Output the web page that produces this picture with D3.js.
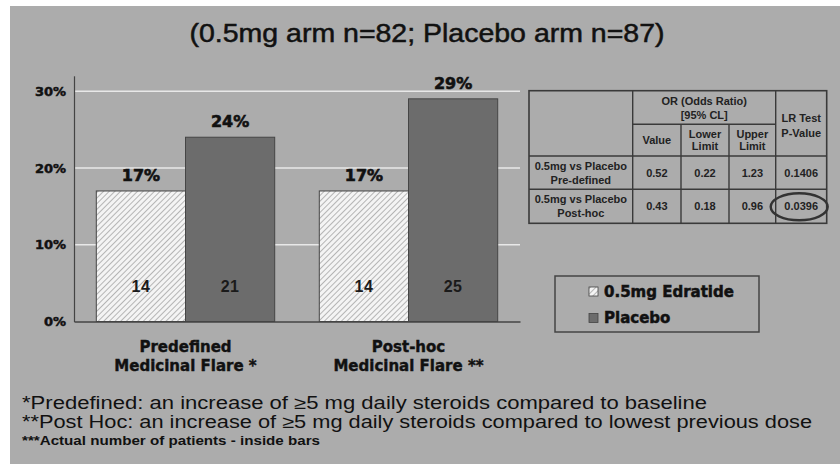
<!DOCTYPE html>
<html lang="en">
  <head>
    <meta charset="UTF-8">
    <title>Medicinal Flare</title>
    <style>
      body { margin: 0; background: #fff; }
      svg { display: block; }
    </style>
  </head>
  <body>
    <div id="chart"></div>
    <script src="https://d3js.org/d3.v7.min.js"></script>
    <script>
      // data
      const groups = [["Predefined", "Medicinal Flare *"], ["Post-hoc", "Medicinal Flare **"]];
      const arms = ["0.5mg Edratide", "Placebo"];
      const edratidePct = [0.17, 0.17];
      const placeboPct = [0.24, 0.29];
      const edratideN = [14, 14];
      const placeboN = [21, 25];
      const yTicks = [0, 0.1, 0.2, 0.3];

      const tableHead = ["OR (Odds Ratio)", "[95% CL]"];
      const tableSubHead = [["Value"], ["Lower", "Limit"], ["Upper", "Limit"]];
      const tablePHead = ["LR Test", "P-Value"];
      const tableRowNames = [["0.5mg vs Placebo", "Pre-defined"], ["0.5mg vs Placebo", "Post-hoc"]];
      const tableValues = [["0.52", "0.22", "1.23", "0.1406"], ["0.43", "0.18", "0.96", "0.0396"]];

      const title = "(0.5mg arm n=82; Placebo arm n=87)";
      const footnotes = [
        "*Predefined: an increase of \u22655 mg daily steroids compared to baseline",
        "**Post Hoc: an increase of \u22655 mg daily steroids compared to lowest previous dose",
        "***Actual number of patients - inside bars"
      ];

      const W = 840, H = 464;
      const bg = "#acacac";
      const bold = "'DejaVu Sans', sans-serif";
      const arial = "'Liberation Sans', Arial, sans-serif";

      const svg = d3.select("#chart").append("svg")
        .attr("width", W).attr("height", H);

      // hatch for the edratide bars
      const defs = svg.append("defs");
      defs.append("pattern")
        .attr("id", "hatch")
        .attr("patternUnits", "userSpaceOnUse")
        .attr("width", 4).attr("height", 4)
        .attr("patternTransform", "rotate(45)")
        .call(p => {
          p.append("rect").attr("width", 4).attr("height", 4).attr("fill", "#f4f4f4");
          p.append("line").attr("x1", 0).attr("y1", 0).attr("x2", 0).attr("y2", 4)
            .attr("stroke", "#9a9a9a").attr("stroke-width", 1.4);
        });

      // slide background with white top/left margin
      svg.append("rect").attr("x", 10).attr("y", 6).attr("width", W - 10).attr("height", H - 6)
        .attr("fill", bg);

      svg.append("text")
        .attr("x", 427).attr("y", 42)
        .attr("text-anchor", "middle")
        .attr("textLength", 475).attr("lengthAdjust", "spacingAndGlyphs")
        .style("font-family", arial).style("font-size", "25px").style("fill", "#111")
        .style("stroke", "#111").style("stroke-width", "0.5px")
        .text(title);

      // scales
      const x0 = d3.scaleBand().domain(d3.range(groups.length)).range([74, 520]).paddingInner(0).paddingOuter(0);
      const x1 = d3.scaleBand().domain(d3.range(arms.length)).range([0, x0.bandwidth()]).paddingOuter(0.25);
      const y = d3.scaleLinear().domain([0, 0.32]).range([321.5, 75.8]);

      // gridlines
      svg.append("g").selectAll("line")
        .data(yTicks.filter(d => d > 0))
        .join("line")
        .attr("x1", 74).attr("x2", 520)
        .attr("y1", d => y(d)).attr("y2", d => y(d))
        .attr("stroke", "#e8e8e8").attr("stroke-width", 1.5);

      // y axis
      const yAxis = svg.append("g")
        .attr("transform", "translate(74,0)")
        .call(d3.axisLeft(y).tickValues(yTicks).tickSize(0).tickPadding(8).tickFormat(d3.format(".0%")));
      yAxis.select(".domain").attr("stroke", "#444").attr("stroke-width", 1.2);
      yAxis.selectAll("text")
        .style("font-family", bold).style("font-weight", "bold").style("font-size", "13px").style("fill", "#111")
        .style("stroke", "#111").style("stroke-width", "0.5px");

      // x axis
      const xAxis = svg.append("g")
        .attr("transform", "translate(0," + y(0) + ")")
        .call(d3.axisBottom(x0).tickSize(0).tickFormat(""));
      xAxis.select(".domain").attr("stroke", "#444").attr("stroke-width", 1.5);
      xAxis.selectAll(".tick text").remove();

      groups.forEach((g, i) => {
        svg.append("text")
          .attr("x", x0(i) + x0.bandwidth() / 2).attr("y", 352)
          .attr("text-anchor", "middle")
          .style("font-family", bold).style("font-weight", "bold").style("font-size", "15px").style("fill", "#111")
          .style("stroke", "#111").style("stroke-width", "0.4px")
          .selectAll("tspan").data(g).join("tspan")
          .attr("x", x0(i) + x0.bandwidth() / 2)
          .attr("dy", (d, k) => k === 0 ? 0 : 18.5)
          .text(d => d);
      });

      // bars
      const rows = groups.map((g, i) => [
        { group: i, arm: 0, pct: edratidePct[i], n: edratideN[i] },
        { group: i, arm: 1, pct: placeboPct[i], n: placeboN[i] }
      ]).flat();

      const bars = svg.append("g");
      bars.selectAll("rect")
        .data(rows)
        .join("rect")
        .attr("x", d => x0(d.group) + x1(d.arm))
        .attr("width", x1.bandwidth())
        .attr("y", d => y(d.pct))
        .attr("height", d => y(0) - y(d.pct))
        .attr("fill", d => d.arm === 0 ? "url(#hatch)" : "#6c6c6c")
        .attr("stroke", "#454545").attr("stroke-width", 1);

      bars.selectAll("text.pct")
        .data(rows)
        .join("text")
        .attr("class", "pct")
        .attr("x", d => x0(d.group) + x1(d.arm) + x1.bandwidth() / 2)
        .attr("y", d => y(d.pct) - 10)
        .attr("text-anchor", "middle")
        .style("font-family", bold).style("font-weight", "bold").style("font-size", "16px").style("fill", "#111")
        .style("stroke", "#111").style("stroke-width", "0.6px")
        .text(d => d3.format(".0%")(d.pct));

      bars.selectAll("text.n")
        .data(rows)
        .join("text")
        .attr("class", "n")
        .attr("x", d => x0(d.group) + x1(d.arm) + x1.bandwidth() / 2)
        .attr("y", y(0) - 30)
        .attr("text-anchor", "middle")
        .style("font-family", arial).style("font-weight", "bold").style("font-size", "16px").style("fill", "#1a1a1a")
        .style("letter-spacing", "0.5px")
        .text(d => d.n);

      // statistics table
      const colX = [529, 632.7, 681, 729, 775.7, 826.7];
      const rowY = [90.7, 124.3, 156, 189.3, 223.3];
      const tbl = svg.append("g");
      const line = (x1_, y1_, x2_, y2_) => tbl.append("line")
        .attr("x1", x1_).attr("y1", y1_).attr("x2", x2_).attr("y2", y2_)
        .attr("stroke", "#3a3a3a").attr("stroke-width", 1.4);

      tbl.append("rect")
        .attr("x", colX[0]).attr("y", rowY[0])
        .attr("width", colX[5] - colX[0]).attr("height", rowY[4] - rowY[0])
        .attr("fill", "none").attr("stroke", "#3a3a3a").attr("stroke-width", 1.6);
      line(colX[1], rowY[0], colX[1], rowY[4]);
      line(colX[4], rowY[0], colX[4], rowY[4]);
      line(colX[2], rowY[1], colX[2], rowY[4]);
      line(colX[3], rowY[1], colX[3], rowY[4]);
      line(colX[1], rowY[1], colX[4], rowY[1]);
      line(colX[0], rowY[2], colX[5], rowY[2]);
      line(colX[0], rowY[3], colX[5], rowY[3]);

      const cellText = (cx, cy, lines, gap) => {
        const t = tbl.append("text")
          .attr("text-anchor", "middle")
          .style("font-family", arial).style("font-weight", "bold").style("font-size", "11px").style("fill", "#222");
        const top = cy - (lines.length - 1) * gap / 2 + 4;
        lines.forEach((s, k) => t.append("tspan").attr("x", cx).attr("y", top + k * gap).text(s));
      };

      cellText((colX[1] + colX[4]) / 2, (rowY[0] + rowY[1]) / 2, tableHead, 14);
      cellText((colX[4] + colX[5]) / 2, (rowY[0] + rowY[2]) / 2 + 2, tablePHead, 14.5);
      tableSubHead.forEach((s, k) => cellText((colX[k + 1] + colX[k + 2]) / 2, (rowY[1] + rowY[2]) / 2, s, 12.5));
      tableRowNames.forEach((s, r) => {
        cellText((colX[0] + colX[1]) / 2, (rowY[r + 2] + rowY[r + 3]) / 2, s, 14);
        tableValues[r].forEach((v, k) => cellText((colX[k + 1] + colX[k + 2]) / 2, (rowY[r + 2] + rowY[r + 3]) / 2, [v], 0));
      });

      // circle round the significant p-value
      tbl.append("ellipse")
        .attr("cx", (colX[4] + colX[5]) / 2 - 2).attr("cy", (rowY[3] + rowY[4]) / 2 + 0.5)
        .attr("rx", 28.5).attr("ry", 13.5)
        .attr("fill", "none").attr("stroke", "#333").attr("stroke-width", 2.4);

      // legend
      const lg = svg.append("g");
      lg.append("rect").attr("x", 555).attr("y", 276).attr("width", 204).attr("height", 56)
        .attr("fill", "none").attr("stroke", "#444").attr("stroke-width", 1.5);
      arms.forEach((a, i) => {
        lg.append("rect")
          .attr("x", 589).attr("y", 287 + i * 26.5).attr("width", 9).attr("height", 9)
          .attr("fill", i === 0 ? "url(#hatch)" : "#6c6c6c").attr("stroke", "#444").attr("stroke-width", 0.8);
        lg.append("text")
          .attr("x", 604).attr("y", 296.5 + i * 26.5)
          .style("font-family", bold).style("font-weight", "bold").style("font-size", "15px").style("fill", "#111")
          .style("stroke", "#111").style("stroke-width", "0.5px")
          .text(a);
      });

      // footnotes
      const fnW = [685, 790, 298];
      footnotes.forEach((f, i) => {
        svg.append("text")
          .attr("x", 22).attr("y", [408.5, 427.5, 445][i])
          .attr("textLength", fnW[i]).attr("lengthAdjust", "spacingAndGlyphs")
          .style("font-family", arial)
          .style("font-weight", i === 2 ? "bold" : "normal")
          .style("font-size", i === 2 ? "12px" : "17.5px")
          .style("fill", "#111")
          .text(f);
      });
    </script>
  </body>
</html>
